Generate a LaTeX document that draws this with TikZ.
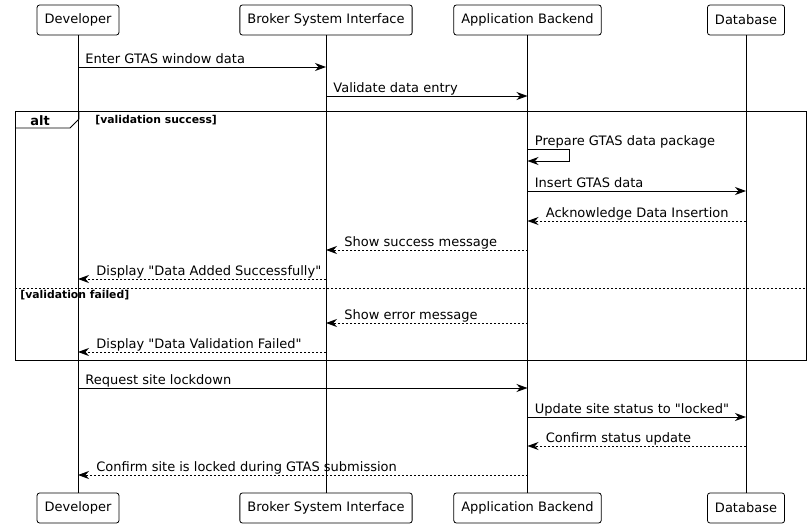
\documentclass[tikz,border=0pt]{standalone}
\usepackage{fontspec}
\newfontfamily\seqfont{DejaVu Sans}
\usetikzlibrary{arrows.meta,positioning}

\begin{document}
\begin{tikzpicture}[x=1pt,y=-1pt,line width=0.8pt,
		actor/.style={draw,rounded corners=2.5pt,minimum height=30pt,inner xsep=7.5pt,inner ysep=0pt,font=\seqfont\fontsize{13}{15}\selectfont},
		call/.style={-{Stealth[length=11pt,width=8pt,inset=3.5pt]}},
		reply/.style={call,dash pattern=on 2pt off 2pt},
		msglbl/.style={anchor=base west,inner sep=0pt,font=\seqfont\fontsize{13}{15}\selectfont},
		fwd/.style={msglbl,pos=0,xshift=7pt,yshift=4pt},
		back/.style={msglbl,pos=1,xshift=18pt,yshift=4pt},
		guard/.style={anchor=base west,inner sep=0pt,font=\seqfont\bfseries\fontsize{10.8}{12}\selectfont}]
			\useasboundingbox (0,0) rectangle (812,528);
			% participants
			\node[actor] (dev) at (78,20) {Developer};
			\node[actor] (bsi) at (326,20) {Broker System Interface};
			\node[actor] (app) at (527.5,20) {Application Backend};
			\node[actor] (db) at (746,20) {Database};
			\node[actor] (devB) at (78,508) {Developer};
			\node[actor] (bsiB) at (326,508) {Broker System Interface};
			\node[actor] (appB) at (527.5,508) {Application Backend};
			\node[actor] (dbB) at (746,508) {Database};
			\foreach \p in {dev,bsi,app,db}
				\draw (\p.south) -- (\p B.north);
	
			% message rows
			\foreach \n/\y in {1/67,2/96,3/149,3b/161,4/191,5/221,6/250,7/279,sep/288,8/323,9/352,10/388,11/417,12/446,13/475}
				\coordinate (r\n) at (0,\y);
	
			% alt frame
			\coordinate (fTL) at (15,111);
			\coordinate (fBR) at (806,360);
			\draw (fTL) rectangle (fBR);
			\draw (fTL |- 0,128) -- (70,128) -- (79,119) -- (79,111);
			\node[anchor=base west,inner sep=0pt,font=\seqfont\bfseries\fontsize{13}{15}\selectfont] (altlbl) at (30,125) {alt};
			\node[guard] (okg) at (95,123) {[validation success]};
			\draw[dash pattern=on 2pt off 2pt] (fTL |- rsep) -- (fBR |- rsep);
			\node[guard] (failg) at (20,298) {[validation failed]};
	
			\draw[call] (dev |- r1) -- node[fwd]{Enter GTAS window data} (bsi |- r1);
			\draw[call] (bsi |- r2) -- node[fwd]{Validate data entry} (app |- r2);
			\node[msglbl,xshift=7pt,yshift=4pt] (selflbl) at (app |- r3) {Prepare GTAS data package};
			\draw[call] (app |- r3) -- ++(42,0) |- (app |- r3b);
			\draw[call] (app |- r4) -- node[fwd]{Insert GTAS data} (db |- r4);
			\draw[reply] (db |- r5) -- node[back]{Acknowledge Data Insertion} (app |- r5);
			\draw[reply] (app |- r6) -- node[back]{Show success message} (bsi |- r6);
			\draw[reply] (bsi |- r7) -- node[back]{Display "Data Added Successfully"} (dev |- r7);
			\draw[reply] (app |- r8) -- node[back]{Show error message} (bsi |- r8);
			\draw[reply] (bsi |- r9) -- node[back]{Display "Data Validation Failed"} (dev |- r9);
			\draw[call] (dev |- r10) -- node[fwd]{Request site lockdown} (app |- r10);
			\draw[call] (app |- r11) -- node[fwd]{Update site status to "locked"} (db |- r11);
			\draw[reply] (db |- r12) -- node[back]{Confirm status update} (app |- r12);
			\draw[reply] (app |- r13) -- node[back]{Confirm site is locked during GTAS submission} (dev |- r13);
			\end{tikzpicture}
\end{document}
